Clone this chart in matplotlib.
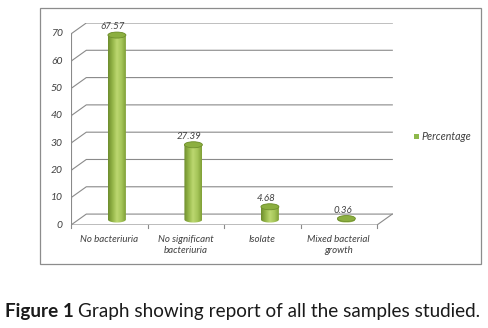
import numpy as np
import matplotlib
matplotlib.use("Agg")
import matplotlib.pyplot as plt
from matplotlib.colors import LinearSegmentedColormap
from matplotlib.patches import Polygon, Ellipse, Rectangle

categories = ["No bacteriuria", "No significant\nbacteriuria", "Isolate", "Mixed bacterial\ngrowth"]
percentages = [67.57, 27.39, 4.68, 0.36]
yticks = [0, 10, 20, 30, 40, 50, 60, 70]
series_name = "Percentage"

# 3d look: depth of the box in data units, cylinder size
depth_x, depth_y = 0.2, 4.0
bar_w, cap_h = 0.235, 2.2
grid_col = "#8a8a8a"
text_col = "#404040"
font = "Lato"

body_cmap = LinearSegmentedColormap.from_list(
    "cyl", ["#6c8c2c", "#94b548", "#bcd870", "#a6c65a", "#7f9f36"])

fig = plt.figure(figsize=(4.89, 3.28), dpi=100)
fig.patches.append(Rectangle((40 / 489, 1 - 264 / 328), 441 / 489, 256 / 328,
                             transform=fig.transFigure, fill=False,
                             edgecolor="#8c8c8c", linewidth=0.9))

ax = fig.add_axes([71 / 489, 1 - 225 / 328, 322 / 489, 202 / 328])
ax.set_axis_off()

n = len(categories)
left, right = -0.5, n - 0.5

# walls: back gridlines, side diagonals, floor
for v in yticks:
    ax.plot([left, left + depth_x, right + depth_x], [v, v + depth_y, v + depth_y],
            color=grid_col, lw=0.8, zorder=1)
ax.plot([left, right, right + depth_x], [0, 0, depth_y], color=grid_col, lw=0.8, zorder=1)
ax.plot([left, left], [0, yticks[-1]], color=grid_col, lw=0.8, zorder=1)
for v in yticks:
    ax.plot([left - 0.04, left], [v, v], color=grid_col, lw=0.8, zorder=1)
    ax.text(left - 0.11, v, str(v), ha="right", va="center", fontsize=7.5,
            style="italic", color=text_col, family=font)
for b in np.arange(left, right + 1):
    ax.plot([b, b], [0, -1.2], color=grid_col, lw=0.8, zorder=1, clip_on=False)

# cylinders
t_low = np.linspace(np.pi, 2 * np.pi, 60)
t_up = np.linspace(0, np.pi, 60)
for i, val in enumerate(percentages):
    xc = i + depth_x / 2
    base = depth_y / 2
    top = val + base
    pts = np.vstack([
        np.column_stack([xc + bar_w / 2 * np.cos(t_low), base + cap_h / 2 * np.sin(t_low)]),
        np.column_stack([xc + bar_w / 2 * np.cos(t_up), top + cap_h / 2 * np.sin(t_up)]),
    ])
    body = Polygon(pts, closed=True, facecolor="none", edgecolor="none")
    ax.add_patch(body)
    im = ax.imshow(np.linspace(0, 1, 256)[None, :], cmap=body_cmap, aspect="auto",
                   extent=[xc - bar_w / 2, xc + bar_w / 2, base - cap_h, top + cap_h],
                   zorder=3)
    im.set_clip_path(body)
    ax.add_patch(Ellipse((xc, top), bar_w, cap_h, facecolor="#8caf40",
                         edgecolor="#6f8f2e", lw=0.6, zorder=4))
    ax.annotate(f"{val:.2f}", (i + 0.05, top + cap_h / 2), xytext=(0, 0.5),
                textcoords="offset points", ha="center", va="bottom", fontsize=7,
                style="italic", color=text_col, family=font)

# category labels
for i, name in enumerate(categories):
    ax.annotate(name, (i, 0), xytext=(0, -7), textcoords="offset points",
                ha="center", va="top", fontsize=7, style="italic",
                color=text_col, family=font, linespacing=1.3)

ax.set_xlim(left, left + 322 / 76.5)
ax.set_ylim(0, 202 / 2.73)

# legend
fig.patches.append(Rectangle((414 / 489, 1 - 139 / 328), 5 / 489, 5 / 328,
                             transform=fig.transFigure, facecolor="#8db84a",
                             edgecolor="none"))
fig.text(421 / 489, 1 - 136.5 / 328, series_name, ha="left", va="center",
         fontsize=7.7, style="italic", color=text_col, family=font)

# caption: bold figure number followed by plain text
cap = fig.text(5 / 489, 1 - 311 / 328, "Figure 1", fontsize=13.6, va="center", ha="left",
               family=font, weight="bold", color="#1a1a1a")
fig.canvas.draw()
bb = cap.get_window_extent()
fig.text(bb.x1 / fig.bbox.width + 4 / 489, 1 - 311 / 328,
         "Graph showing report of all the samples studied.", fontsize=13.6,
         va="center", ha="left", family=font, color="#1a1a1a")

fig.savefig("out.png", dpi=100)
